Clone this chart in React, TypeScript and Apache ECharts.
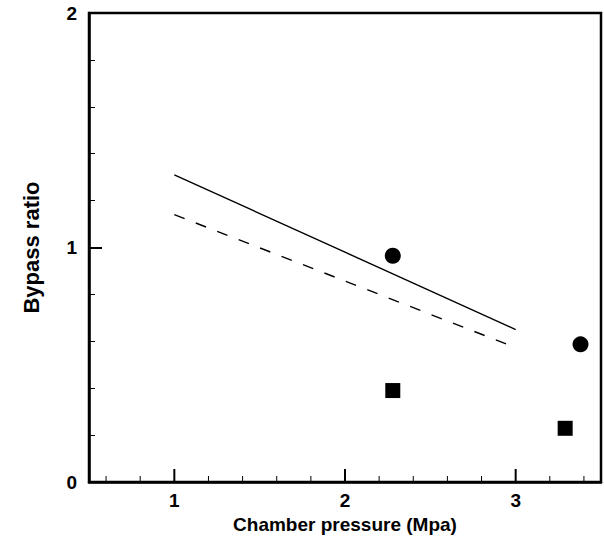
import React, { useEffect, useRef } from "react";
import * as echarts from "echarts";

const xMajorTicks = [1, 2, 3];
const xMinorTicks = [0.6, 0.8, 1.2, 1.4, 1.6, 1.8, 2.2, 2.4, 2.6, 2.8, 3.2, 3.4];
const solidLine = [[1, 1.31], [2, 0.98], [3, 0.65]];
const dashedLine = [[1, 1.14], [2, 0.857], [3, 0.573]];
const circles = [[2.28, 0.965], [3.38, 0.587]];
const squares = [[2.28, 0.39], [3.29, 0.229]];

const FONT = "'Liberation Sans', Arial, Helvetica, sans-serif";

export default function App() {
  const ref = useRef<HTMLDivElement>(null);
  useEffect(() => {
    if (!ref.current) return;
    const chart = echarts.init(ref.current, null, { renderer: "svg" });
    const tickData = [
      ...xMajorTicks.map((v) => [v, 0, 13, 2]),
      ...xMinorTicks.map((v) => [v, 0, 6, 1]),
    ];
    chart.setOption({
      animation: false,
      backgroundColor: "#fff",
      grid: {
        left: 89,
        right: 3,
        top: 13,
        bottom: 62,
        show: true,
        borderColor: "#000",
        borderWidth: 2.5,
      },
      xAxis: {
        type: "value",
        min: 0.5,
        max: 3.5,
        position: "bottom",
        name: "Chamber pressure (Mpa)",
        nameLocation: "middle",
        nameGap: 31,
        nameTextStyle: { fontFamily: FONT, fontWeight: "bold", fontSize: 19, color: "#000" },
        axisLine: { show: true, onZero: false, lineStyle: { color: "#000", width: 2.5 } },
        axisTick: { show: false },
        axisLabel: { show: true, customValues: xMajorTicks, margin: 9, fontFamily: FONT, fontWeight: "bold", fontSize: 19, color: "#000" },
        splitLine: { show: false },
      },
      yAxis: {
        type: "value",
        min: 0,
        max: 2,
        interval: 1,
        name: "Bypass ratio",
        nameLocation: "middle",
        nameGap: 47,
        nameRotate: 90,
        nameTextStyle: { fontFamily: FONT, fontWeight: "bold", fontSize: 22, color: "#000" },
        axisLine: { show: true, onZero: false, lineStyle: { color: "#000", width: 2.5 } },
        axisTick: { show: true, inside: true, length: 13, lineStyle: { color: "#000", width: 2 } },
        minorTick: { show: true, splitNumber: 5, length: 6, lineStyle: { color: "#000", width: 1 } },
        axisLabel: { margin: 12, fontFamily: FONT, fontWeight: "bold", fontSize: 19, color: "#000" },
        splitLine: { show: false },
      },
      series: [
        {
          type: "custom",
          data: tickData,
          clip: false,
          silent: true,
          renderItem: (params: any, api: any) => {
            const p = api.coord([api.value(0), api.value(1)]);
            const len = api.value(2);
            return {
              type: "line",
              shape: { x1: p[0], y1: p[1], x2: p[0], y2: p[1] - len },
              style: { stroke: "#000", lineWidth: api.value(3) },
            };
          },
        },
        {
          type: "line",
          data: solidLine,
          symbol: "none",
          lineStyle: { color: "#000", width: 1.4, type: "solid" },
        },
        {
          type: "line",
          data: dashedLine,
          symbol: "none",
          lineStyle: { color: "#000", width: 1.4, type: [11, 12] },
        },
        {
          type: "scatter",
          data: circles,
          symbol: "circle",
          symbolSize: 16,
          itemStyle: { color: "#000", opacity: 1 },
        },
        {
          type: "scatter",
          data: squares,
          symbol: "rect",
          symbolSize: 15,
          itemStyle: { color: "#000", opacity: 1 },
        },
      ],
    });
    return () => chart.dispose();
  }, []);
  return (
    <div
      ref={ref}
      style={{ position: "fixed", left: 0, top: 0, width: 604, height: 544, background: "#fff" }}
    />
  );
}
